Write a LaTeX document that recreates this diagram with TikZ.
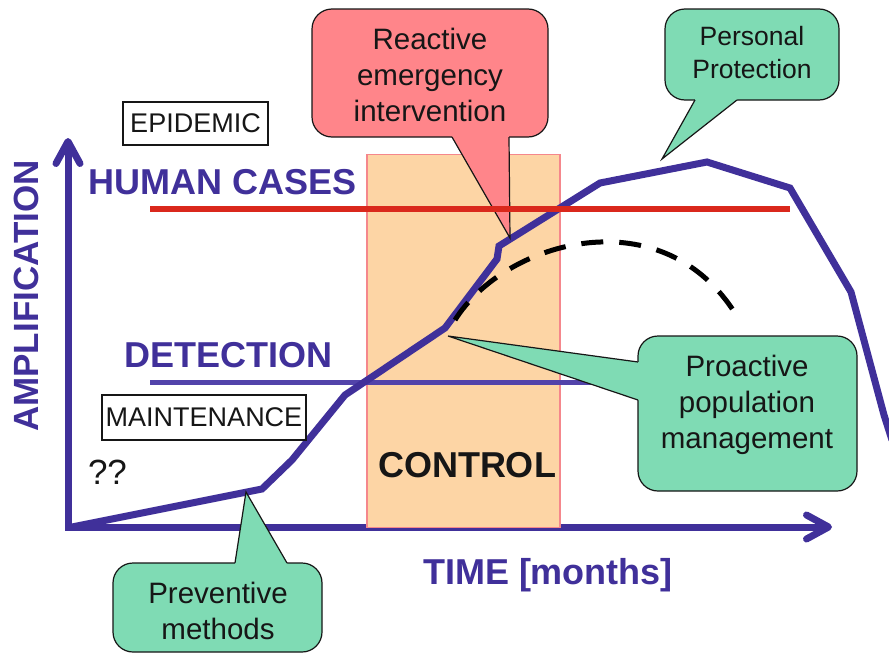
\documentclass[tikz,border=0pt]{standalone}
\usepackage{fontspec}
\setmainfont{Liberation Sans}
\usetikzlibrary{arrows.meta}
\definecolor{axispurple}{RGB}{64,48,154}
\definecolor{detpurple}{RGB}{82,67,170}
\definecolor{redline}{RGB}{218,40,28}
\definecolor{ctrlfill}{RGB}{253,213,165}
\definecolor{ctrlborder}{RGB}{245,135,140}
\definecolor{calred}{RGB}{255,133,138}
\definecolor{calgreen}{RGB}{127,219,180}
\definecolor{txt}{RGB}{22,22,22}
\tikzset{
  heading/.style={font=\fontsize{36}{40}\selectfont\bfseries, text=axispurple, inner sep=0pt},
  plainbox/.style={draw=txt, line width=1.3pt, font=\fontsize{27}{32}\selectfont, text=txt, inner sep=0pt},
  calloutbox/.style={draw=txt, line width=1.2pt, rounded corners=20pt, inner sep=0pt},
  pointerline/.style={draw=txt, line width=1.2pt, line join=miter},
  callouttext/.style={font=\fontsize{29.5}{36}\selectfont, text=txt, align=center, inner sep=0pt},
  axisline/.style={draw=axispurple, line width=7pt},
  curveline/.style={draw=axispurple, line width=7pt, line join=miter},
  dashcurve/.style={draw=black, line width=5pt, dash pattern=on 22pt off 16pt},
}
\begin{document}
\begin{tikzpicture}[x=1pt,y=-1pt]
\useasboundingbox (0,0) rectangle (889,653);
\fill[white] (0,0) rectangle (889,653);

% axes
\coordinate (O) at (68,527);
\coordinate (ytop) at (68,138);
\coordinate (xend) at (832,527);
\draw[axisline, {Straight Barb[length=22pt,width=24pt,round]}-{Straight Barb[length=22pt,width=24pt,round]}] (ytop) -- (O) -- (xend);

% control region
\node[draw=ctrlborder, fill=ctrlfill, line width=1.8pt, minimum width=193pt, minimum height=373pt, inner sep=0pt] (ctrl) at (463.5,341) {};

% detection line
\coordinate (det1) at (150,382);
\coordinate (det2) at (620,382);
\draw[detpurple, line width=5pt] (det1) -- (det2);

% epidemic curve
\draw[curveline] (72,527) -- (262,489) -- (292,460) -- (345,395) -- (445,328) -- (497,259) -- (499,246) -- (600,183) -- (707,162) -- (790,188) -- (851,292) -- (884,415) -- (892,440);

% dashed controlled curve
\coordinate (d0) at (455,320);
\coordinate (d1) at (738,318);
\draw[dashcurve] (d0) .. controls (505,240) and (665,195) .. (d1);

% boxes
\node[plainbox, minimum width=145pt, minimum height=43pt] (epi) at (195.5,123.5) {EPIDEMIC};
\node[plainbox, minimum width=204pt, minimum height=45pt] (maint) at (204,417.5) {MAINTENANCE};
\node[font=\fontsize{35}{40}\selectfont, text=txt, inner sep=0pt] (qq) at (107.5,472) {??};

% Reactive callout
\node[calloutbox, fill=calred, minimum width=236pt, minimum height=128pt] (reactbox) at (430,73) {};
\coordinate (ra) at (452,137); \coordinate (rb) at (509,137); \coordinate (rtip) at (510,238);
\fill[calred] (452,132) -- (ra) -- (rtip) -- (rb) -- (509,132) -- cycle;
\draw[pointerline] (ra) -- (rtip) -- (rb);
\node[callouttext] (reacttext) at (430,75) {Reactive\\emergency\\intervention};

% Personal protection callout
\node[calloutbox, fill=calgreen, minimum width=174pt, minimum height=91pt] (persbox) at (752,54.5) {};
\coordinate (pa) at (695,100); \coordinate (pb) at (737,100); \coordinate (ptip) at (662,159);
\fill[calgreen] (695,95) -- (pa) -- (ptip) -- (pb) -- (737,95) -- cycle;
\draw[pointerline] (pa) -- (ptip) -- (pb);
\node[callouttext, font=\fontsize{26.5}{33}\selectfont] (perstext) at (752,53) {Personal\\Protection};

% Proactive callout
\node[calloutbox, fill=calgreen, minimum width=219pt, minimum height=155pt] (probox) at (747.5,413.5) {};
\coordinate (qa) at (638,362); \coordinate (qb) at (638,400); \coordinate (qtip) at (448,336);
\fill[calgreen] (643,362) -- (qa) -- (qtip) -- (qb) -- (643,400) -- cycle;
\draw[pointerline] (qa) -- (qtip) -- (qb);
\node[callouttext] (protext) at (747,405) {Proactive\\population\\management};

% Preventive callout
\node[calloutbox, fill=calgreen, minimum width=209pt, minimum height=89pt] (prevbox) at (217.5,607.5) {};
\coordinate (va) at (235,563); \coordinate (vb) at (287,563); \coordinate (vtip) at (246,492);
\fill[calgreen] (235,568) -- (va) -- (vtip) -- (vb) -- (287,568) -- cycle;
\draw[pointerline] (va) -- (vtip) -- (vb);
\node[callouttext] (prevtext) at (218,611) {Preventive\\methods};

% human cases line
\coordinate (hc1) at (150,209);
\coordinate (hc2) at (790,209);
\draw[redline, line width=6pt] (hc1) -- (hc2);

% headings
\node[heading] (human) at (222.5,182.5) {HUMAN CASES};
\node[heading] (detect) at (228.5,355) {DETECTION};
\node[heading, font=\fontsize{35}{40}\selectfont\bfseries, rotate=90] (ampl) at (26.5,296) {AMPLIFICATION};
\node[heading, anchor=base] (time) at (548,584) {TIME [months]};
\node[heading, text=txt] (control) at (467,465) {CONTROL};
\end{tikzpicture}
\end{document}
